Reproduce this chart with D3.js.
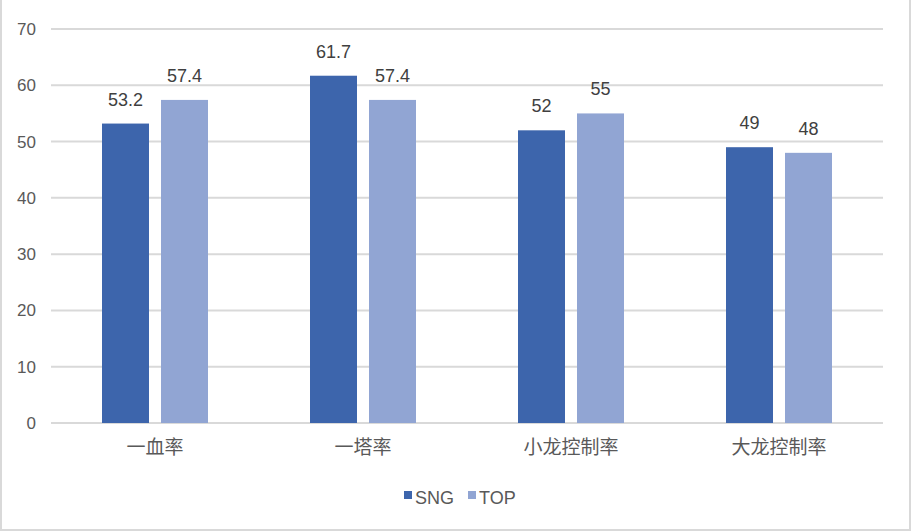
<!DOCTYPE html>
<html>
<head>
<meta charset="utf-8">
<script src="https://cdn.jsdelivr.net/npm/d3@7"></script>
<style>
  body { margin: 0; background: #fff; }
  svg { display: block; font-family: "Liberation Sans", Arial, "Noto Sans CJK SC", sans-serif; }
</style>
</head>
<body>
<script>
// data
var categories = ["一血率", "一塔率", "小龙控制率", "大龙控制率"];
var seriesNames = ["SNG", "TOP"];
var sngValues = [53.2, 61.7, 52, 49];
var topValues = [57.4, 57.4, 55, 48];
var yTicks = [0, 10, 20, 30, 40, 50, 60, 70];
var colors = ["#3d65ac", "#91a5d3"];

var width = 912, height = 532;
var margin = { top: 29, right: 29, bottom: 109, left: 51 };

var svg = d3.select("body").append("svg")
  .attr("width", width)
  .attr("height", height);

// frame
svg.append("path")
  .attr("d", "M1,-2 V530 H910 V-2")
  .attr("fill", "none")
  .attr("stroke", "#d9d9d9")
  .attr("stroke-width", 2);

var x0 = d3.scaleBand()
  .domain(categories)
  .range([margin.left, width - margin.right]);

// bars: 47px wide, 12px gap, centered in each group
var inner = 106;
var x1 = d3.scaleBand()
  .domain(seriesNames)
  .range([(x0.bandwidth() - inner) / 2, (x0.bandwidth() + inner) / 2])
  .paddingInner(12 / 59);

var y = d3.scaleLinear()
  .domain([0, 70])
  .range([height - margin.bottom, margin.top]);

// gridlines
svg.append("g")
  .selectAll("line")
  .data(yTicks)
  .join("line")
    .attr("x1", margin.left)
    .attr("x2", width - margin.right)
    .attr("y1", function(d) { return y(d); })
    .attr("y2", function(d) { return y(d); })
    .attr("stroke", "#d9d9d9")
    .attr("stroke-width", 2);

// y axis labels
var yAxis = svg.append("g")
  .attr("transform", "translate(" + (margin.left - 15) + ",0)")
  .call(d3.axisLeft(y).tickValues(yTicks).tickSize(0).tickPadding(0));
yAxis.select(".domain").remove();
yAxis.selectAll("text")
  .attr("fill", "#595959")
  .style("font-size", "17px");

var rows = categories.map(function(c, i) {
  return { category: c, values: [
    { key: "SNG", value: sngValues[i] },
    { key: "TOP", value: topValues[i] }
  ]};
});

var groups = svg.append("g")
  .selectAll("g")
  .data(rows)
  .join("g")
    .attr("transform", function(d) { return "translate(" + x0(d.category) + ",0)"; });

groups.selectAll("rect")
  .data(function(d) { return d.values; })
  .join("rect")
    .attr("x", function(d) { return x1(d.key); })
    .attr("y", function(d) { return y(d.value); })
    .attr("width", x1.bandwidth())
    .attr("height", function(d) { return y(0) - y(d.value); })
    .attr("fill", function(d, i) { return colors[i]; });

groups.selectAll("text")
  .data(function(d) { return d.values; })
  .join("text")
    .attr("x", function(d) { return x1(d.key) + x1.bandwidth() / 2; })
    .attr("y", function(d) { return y(d.value) - 18; })
    .attr("text-anchor", "middle")
    .attr("fill", "#404040")
    .style("font-size", "18px")
    .text(function(d) { return d.value; });

// x axis labels
var xAxis = svg.append("g")
  .attr("transform", "translate(0," + y(0) + ")")
  .call(d3.axisBottom(x0).tickSize(0).tickPadding(18));
xAxis.select(".domain").remove();
xAxis.selectAll("text")
  .attr("fill", "#595959")
  .style("font-family", "'Noto Sans CJK SC', sans-serif")
  .style("font-size", "19px");

// legend
var legend = svg.append("g")
  .selectAll("g")
  .data(seriesNames)
  .join("g")
    .attr("transform", function(d, i) { return "translate(" + (404 + i * 64) + ",491)"; });
legend.append("rect")
  .attr("width", 8)
  .attr("height", 8)
  .attr("fill", function(d, i) { return colors[i]; });
legend.append("text")
  .attr("x", 11)
  .attr("y", 13)
  .attr("fill", "#595959")
  .style("font-size", "18px")
  .text(function(d) { return d; });
</script>
</body>
</html>
